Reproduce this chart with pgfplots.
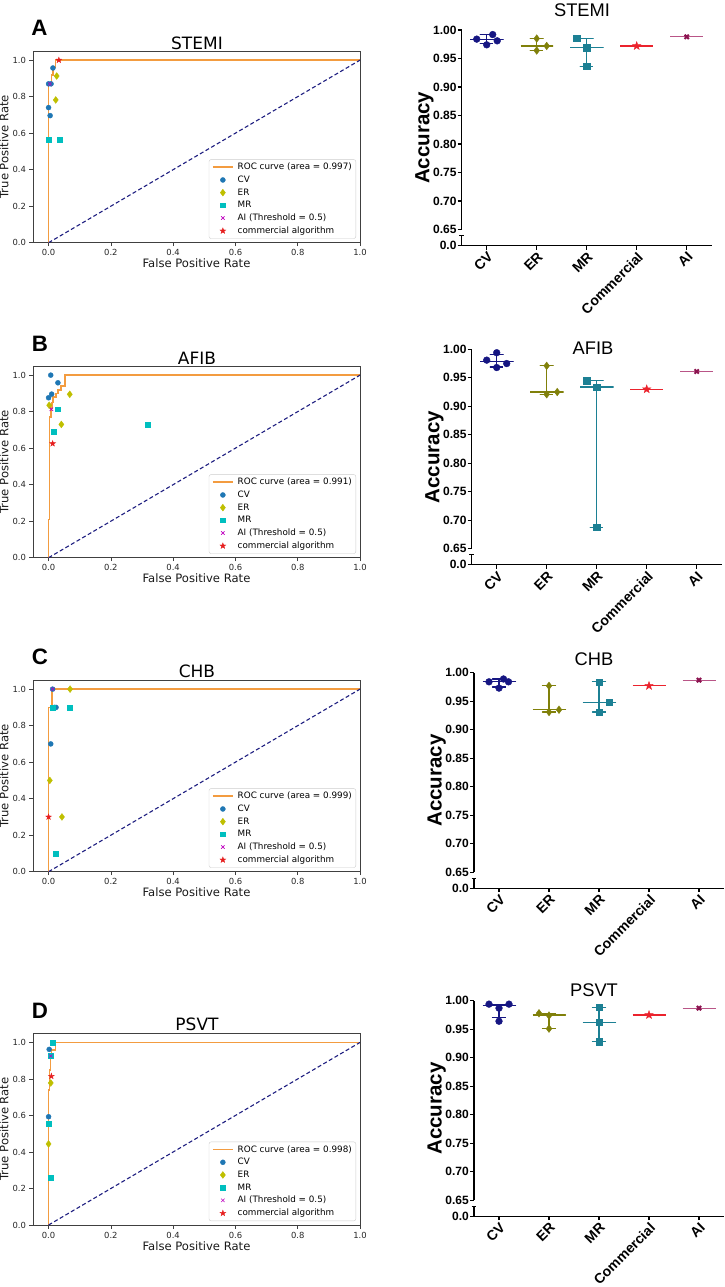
\documentclass[border=0pt]{standalone}
\usepackage{fontspec}
\setmainfont{DejaVu Sans}
\newfontfamily\arial{Liberation Sans}
\usepackage{pgfplots}
\pgfplotsset{compat=1.18}
\usetikzlibrary{plotmarks}

\definecolor{rocorange}{RGB}{243,156,64}
\definecolor{rocnavy}{RGB}{30,30,128}
\definecolor{mcv}{RGB}{31,119,180}
\definecolor{mer}{RGB}{191,191,0}
\definecolor{mmr}{RGB}{0,191,191}
\definecolor{mai}{RGB}{191,0,191}
\definecolor{mcom}{RGB}{230,30,30}
\definecolor{acv}{RGB}{22,22,130}
\definecolor{aer}{RGB}{128,128,10}
\definecolor{amr}{RGB}{28,128,148}
\definecolor{acom}{RGB}{235,35,45}
\definecolor{aai}{RGB}{140,20,80}
\definecolor{aail}{RGB}{185,85,135}

% filled five-pointed star
\pgfdeclareplotmark{fstar}{%
  \pgfpathmoveto{\pgfpointpolar{90}{\pgfplotmarksize}}%
  \pgfpathlineto{\pgfpointpolar{126}{0.4\pgfplotmarksize}}%
  \pgfpathlineto{\pgfpointpolar{162}{\pgfplotmarksize}}%
  \pgfpathlineto{\pgfpointpolar{198}{0.4\pgfplotmarksize}}%
  \pgfpathlineto{\pgfpointpolar{234}{\pgfplotmarksize}}%
  \pgfpathlineto{\pgfpointpolar{270}{0.4\pgfplotmarksize}}%
  \pgfpathlineto{\pgfpointpolar{306}{\pgfplotmarksize}}%
  \pgfpathlineto{\pgfpointpolar{342}{0.4\pgfplotmarksize}}%
  \pgfpathlineto{\pgfpointpolar{18}{\pgfplotmarksize}}%
  \pgfpathlineto{\pgfpointpolar{54}{0.4\pgfplotmarksize}}%
  \pgfpathclose
  \pgfusepathqfillstroke}

\pgfplotsset{
  roc/.style={
    scale only axis, width=327pt, height=191.7pt,
    xmin=-0.05, xmax=1, ymin=0, ymax=1.05,
    axis line style={black!75, line width=0.7pt},
    tick pos=left, tick align=outside, major tick length=3.5pt,
    tick style={black!75, line width=0.6pt},
    xtick={0,0.2,0.4,0.6,0.8,1}, xticklabels={0.0,0.2,0.4,0.6,0.8,1.0},
    ytick={0,0.2,0.4,0.6,0.8,1}, yticklabels={0.0,0.2,0.4,0.6,0.8,1.0},
    ticklabel style={font=\fontsize{8.4}{9}\selectfont, text=black!85},
    xlabel={False Positive Rate}, ylabel={True Positive Rate},
    label style={font=\fontsize{11.6}{13}\selectfont, text=black!90},
    xlabel style={yshift=4pt},
    ylabel style={at={([xshift=-21pt]rel axis cs:0,0.5)}, anchor=south},
    legend image code/.code={\draw[mark repeat=2,mark phase=2,#1] plot coordinates {(0pt,0pt)(10pt,0pt)(20pt,0pt)};},
    legend style={at={(rel axis cs:1,0)}, anchor=south east, xshift=-4pt, yshift=4pt,
      font=\fontsize{8.8}{10}\selectfont, draw=black!20, rounded corners=2pt,
      inner xsep=3pt, inner ysep=2.5pt, row sep=2.7pt, column sep=3pt,
      nodes={inner sep=1pt}},
    legend cell align=left,
  },
  rocline/.style={color=rocorange, line width=1.7pt},
  diag/.style={rocnavy, line width=1.1pt, dash pattern=on 4pt off 2.5pt, forget plot},
  cvm/.style={only marks, mark=*, mark size=2.5pt, color=mcv},
  erm/.style={only marks, mark=diamond*, mark size=3.4pt, color=mer},
  mrm/.style={only marks, mark=square*, mark size=2.4pt, color=mmr},
  aim/.style={only marks, mark=x, mark size=2.4pt, color=mai, line width=0.6pt},
  comm/.style={only marks, mark=fstar, mark size=3pt, color=mcom},
  acc/.style={
    scale only axis, width=250pt, height=215.5pt,
    xmin=-0.5, xmax=4.5, ymin=0.6219, ymax=1,
    axis x line*=bottom, axis y line*=left,
    y axis line style={draw=none}, x axis line style={line width=1.3pt},
    tick align=outside, major tick length=4pt, tick style={black, line width=1.3pt},
    xtick={0,1,2,3,4}, xticklabels={CV,ER,MR,Commercial,AI},
    ytick={0.6219,0.65,0.7,0.75,0.8,0.85,0.9,0.95,1},
    yticklabels={0.0,0.65,0.70,0.75,0.80,0.85,0.90,0.95,1.00},
    yticklabel style={font=\arial\bfseries\fontsize{12}{13}\selectfont, inner sep=1pt},
    xticklabel style={font=\arial\bfseries\fontsize{14}{15}\selectfont, rotate=45, anchor=north east, inner sep=1pt},
    ylabel={Accuracy}, ylabel style={font=\arial\bfseries\fontsize{20.5}{22}\selectfont},
    ylabel shift=-5pt,
    clip=false,
  },
  rng/.style={line width=1.2pt, line join=round, mark=none},
  acvm/.style={only marks, mark=*, mark size=3.4pt, color=acv},
  aerm/.style={only marks, mark=diamond*, mark size=3.8pt, color=aer},
  amrm/.style={only marks, mark=square*, mark size=3.1pt, color=amr},
  acomm/.style={only marks, mark=fstar, mark size=4.3pt, color=acom},
  aaim/.style={only marks, mark=x, mark size=3pt, color=aai, line width=2pt},
}

% y axis with a break between 0.0 and 0.65
\newcommand{\brokenaxis}{%
  \draw[line width=1.3pt] (axis cs:-0.5,0.65) -- (axis cs:-0.5,1);
  \draw[line width=1.3pt] (axis cs:-0.5,0.6219) -- (axis cs:-0.5,0.6394);
  \draw[line width=1.1pt] ([xshift=-2.3pt]axis cs:-0.5,0.6394) -- ([xshift=2.3pt]axis cs:-0.5,0.6394);}

\begin{document}
\begin{tikzpicture}[x=1pt,y=1pt]
\useasboundingbox (0,0) rectangle (725,-1287);

% ---------- A: STEMI ----------
\begin{axis}[roc, at={(33pt,-51pt)}, anchor=north west]
\addplot[rocline] coordinates {(0,0)(0,0.87)(0.009,0.87)(0.009,0.92)(0.015,0.92)(0.015,0.96)(0.022,0.96)(0.022,1)(1,1)};
\addlegendentry{ROC curve (area = 0.997)}
\addplot[diag] coordinates {(0,0)(1,1)};
\addplot[cvm] coordinates {(0.014,0.957)(0,0.87)(0.008,0.87)(0,0.74)(0.005,0.696)};
\addlegendentry{CV}
\addplot[erm] coordinates {(0.026,0.913)(0.023,0.782)};
\addlegendentry{ER}
\addplot[mrm] coordinates {(0,0.565)(0.037,0.565)};
\addlegendentry{MR}
\addplot[aim] coordinates {(0.004,0.87)};
\addlegendentry{AI (Threshold = 0.5)}
\addplot[comm] coordinates {(0.033,1)};
\addlegendentry{commercial algorithm}
\end{axis}

\begin{axis}[acc, at={(461.7pt,-30pt)}, anchor=north west]
\addplot[rng, acv] coordinates {(-0.33,0.984)(0.33,0.984)(0,0.984)(0,0.992)(-0.13,0.992)(0.13,0.992)(0,0.992)(0,0.977)(-0.13,0.977)(0.13,0.977)};
\addplot[rng, aer] coordinates {(0.68,0.972)(1.32,0.972)(1,0.972)(1,0.985)(0.87,0.985)(1.13,0.985)(1,0.985)(1,0.964)(0.87,0.964)(1.13,0.964)};
\addplot[rng, amr] coordinates {(1.67,0.969)(2.33,0.969)(2,0.969)(2,0.985)(1.87,0.985)(2.13,0.985)(2,0.985)(2,0.936)(1.87,0.936)(2.13,0.936)};
\addplot[rng, acom] coordinates {(2.67,0.972)(3.33,0.972)};
\addplot[rng, aail] coordinates {(3.67,0.988)(4.33,0.988)};
\addplot[acvm] coordinates {(-0.2,0.984)(0.12,0.992)(0.21,0.981)(0,0.974)};
\addplot[aerm] coordinates {(1,0.985)(1.2,0.972)(1,0.964)};
\addplot[amrm] coordinates {(1.8,0.985)(2,0.969)(2,0.936)};
\addplot[acomm] coordinates {(3,0.972)};
\addplot[aaim] coordinates {(4,0.988)};
\brokenaxis
\end{axis}

% ---------- B: AFIB ----------
\begin{axis}[roc, at={(33pt,-366pt)}, anchor=north west]
\addplot[rocline] coordinates {(0,0)(0,0.21)(0.003,0.21)(0.003,0.77)(0.007,0.77)(0.007,0.82)(0.011,0.82)(0.011,0.85)(0.015,0.85)(0.015,0.88)(0.023,0.88)(0.023,0.9)(0.03,0.9)(0.03,0.92)(0.039,0.92)(0.039,0.94)(0.053,0.94)(0.053,1)(1,1)};
\addlegendentry{ROC curve (area = 0.991)}
\addplot[diag] coordinates {(0,0)(1,1)};
\addplot[cvm] coordinates {(0.007,1)(0.03,0.958)(0.01,0.896)(0,0.876)};
\addlegendentry{CV}
\addplot[erm] coordinates {(0.068,0.895)(0.002,0.835)(0.041,0.73)};
\addlegendentry{ER}
\addplot[mrm] coordinates {(0.03,0.813)(0.017,0.689)(0.319,0.729)};
\addlegendentry{MR}
\addplot[aim] coordinates {(0.009,0.813)};
\addlegendentry{AI (Threshold = 0.5)}
\addplot[comm] coordinates {(0.013,0.625)};
\addlegendentry{commercial algorithm}
\end{axis}

\begin{axis}[acc, at={(471.7pt,-349.3pt)}, anchor=north west]
\addplot[rng, acv] coordinates {(-0.33,0.978)(0.33,0.978)(0,0.978)(0,0.991)(-0.13,0.991)(0.13,0.991)(0,0.991)(0,0.969)(-0.13,0.969)(0.13,0.969)};
\addplot[rng, aer] coordinates {(0.67,0.925)(1.33,0.925)(1,0.925)(1,0.971)(0.87,0.971)(1.13,0.971)(1,0.971)(1,0.921)(0.87,0.921)(1.13,0.921)};
\addplot[rng, amr] coordinates {(1.67,0.934)(2.33,0.934)(2,0.934)(2,0.945)(1.87,0.945)(2.13,0.945)(2,0.945)(2,0.688)(1.87,0.688)(2.13,0.688)};
\addplot[rng, acom] coordinates {(2.67,0.93)(3.33,0.93)};
\addplot[rng, aail] coordinates {(3.67,0.961)(4.33,0.961)};
\addplot[acvm] coordinates {(-0.2,0.981)(0,0.994)(0.2,0.975)(0,0.968)};
\addplot[aerm] coordinates {(1,0.971)(1,0.921)(1.21,0.925)};
\addplot[amrm] coordinates {(1.8,0.945)(2,0.934)(2,0.688)};
\addplot[acomm] coordinates {(3,0.93)};
\addplot[aaim] coordinates {(4,0.961)};
\brokenaxis
\end{axis}

% ---------- C: CHB ----------
\begin{axis}[roc, at={(33pt,-680pt)}, anchor=north west]
\addplot[rocline] coordinates {(0,0)(0,0.9)(0.01,0.9)(0.01,1)(1,1)};
\addlegendentry{ROC curve (area = 0.999)}
\addplot[diag] coordinates {(0,0)(1,1)};
\addplot[cvm] coordinates {(0.013,1)(0.019,0.9)(0.024,0.9)(0.007,0.7)};
\addlegendentry{CV}
\addplot[erm] coordinates {(0.069,1)(0.004,0.5)(0.043,0.3)};
\addlegendentry{ER}
\addplot[mrm] coordinates {(0.012,0.9)(0.067,0.9)(0.022,0.1)};
\addlegendentry{MR}
\addplot[aim] coordinates {(0.013,1)};
\addlegendentry{AI (Threshold = 0.5)}
\addplot[comm] coordinates {(0,0.3)};
\addlegendentry{commercial algorithm}
\end{axis}

\begin{axis}[acc, at={(474pt,-672.7pt)}, anchor=north west]
\addplot[rng, acv] coordinates {(-0.33,0.984)(0.33,0.984)(0,0.984)(0,0.989)(-0.13,0.989)(0.13,0.989)(0,0.989)(0,0.975)(-0.13,0.975)(0.13,0.975)};
\addplot[rng, aer] coordinates {(0.67,0.936)(1.33,0.936)(1,0.936)(1,0.977)(0.87,0.977)(1.13,0.977)(1,0.977)(1,0.931)(0.87,0.931)(1.13,0.931)};
\addplot[rng, amr] coordinates {(1.67,0.948)(2.33,0.948)(2,0.948)(2,0.984)(1.87,0.984)(2.13,0.984)(2,0.984)(2,0.931)(1.87,0.931)(2.13,0.931)};
\addplot[rng, acom] coordinates {(2.67,0.977)(3.33,0.977)};
\addplot[rng, aail] coordinates {(3.67,0.987)(4.33,0.987)};
\addplot[acvm] coordinates {(-0.2,0.984)(0.09,0.989)(0.19,0.984)(0,0.973)};
\addplot[aerm] coordinates {(1,0.977)(1,0.931)(1.2,0.935)};
\addplot[amrm] coordinates {(2,0.984)(2.2,0.948)(2,0.931)};
\addplot[acomm] coordinates {(3,0.977)};
\addplot[aaim] coordinates {(4,0.987)};
\brokenaxis
\end{axis}

% ---------- D: PSVT ----------
\begin{axis}[roc, at={(33pt,-1033.3pt)}, anchor=north west]
\addplot[rocline] coordinates {(0,0)(0,0.74)(0.003,0.74)(0.003,0.85)(0.006,0.85)(0.006,0.93)(0.009,0.93)(0.009,0.96)(0.022,0.96)(0.022,1)(1,1)};
\addlegendentry{ROC curve (area = 0.998)}
\addplot[diag] coordinates {(0,0)(1,1)};
\addplot[cvm] coordinates {(0.002,0.962)(0,0.593)};
\addlegendentry{CV}
\addplot[erm] coordinates {(0.007,0.778)(0,0.444)};
\addlegendentry{ER}
\addplot[mrm] coordinates {(0.012,1)(0.007,0.926)(0,0.556)(0.007,0.259)};
\addlegendentry{MR}
\addplot[aim] coordinates {(0.007,0.926)};
\addlegendentry{AI (Threshold = 0.5)}
\addplot[comm] coordinates {(0.009,0.815)};
\addlegendentry{commercial algorithm}
\end{axis}

\begin{axis}[acc, at={(474pt,-1000.7pt)}, anchor=north west]
\addplot[rng, acv] coordinates {(-0.33,0.991)(0.33,0.991)(0,0.991)(0,0.994)(-0.13,0.994)(0.13,0.994)(0,0.994)(0,0.97)(-0.13,0.97)(0.13,0.97)};
\addplot[rng, aer] coordinates {(0.67,0.975)(1.33,0.975)(1,0.975)(1,0.978)(0.87,0.978)(1.13,0.978)(1,0.978)(1,0.951)(0.87,0.951)(1.13,0.951)};
\addplot[rng, amr] coordinates {(1.67,0.962)(2.33,0.962)(2,0.962)(2,0.988)(1.87,0.988)(2.13,0.988)(2,0.988)(2,0.928)(1.87,0.928)(2.13,0.928)};
\addplot[rng, acom] coordinates {(2.67,0.975)(3.33,0.975)};
\addplot[rng, aail] coordinates {(3.67,0.987)(4.33,0.987)};
\addplot[acvm] coordinates {(-0.2,0.994)(0.2,0.994)(0,0.987)(0,0.964)};
\addplot[aerm] coordinates {(0.8,0.978)(1,0.974)(1,0.951)};
\addplot[amrm] coordinates {(2,0.988)(2,0.962)(2,0.928)};
\addplot[acomm] coordinates {(3,0.975)};
\addplot[aaim] coordinates {(4,0.987)};
\brokenaxis
\end{axis}

% titles and panel letters
\begin{scope}[every node/.style={font=\fontsize{17}{20}\selectfont}]
\node at (197,-43) {STEMI};
\node at (197,-358) {AFIB};
\node at (197,-671) {CHB};
\node at (197,-1024) {PSVT};
\end{scope}
\begin{scope}[every node/.style={font=\arial\fontsize{18.3}{20}\selectfont}]
\node at (582,-10) {STEMI};
\node at (593,-348) {AFIB};
\node at (594,-659) {CHB};
\node at (594,-990) {PSVT};
\end{scope}
\begin{scope}[every node/.style={font=\arial\bfseries\fontsize{22.3}{24}\selectfont}]
\node at (39.5,-28.3) {A};
\node at (40,-344.2) {B};
\node at (40,-656.7) {C};
\node at (40,-1010.8) {D};
\end{scope}
\end{tikzpicture}
\end{document}
